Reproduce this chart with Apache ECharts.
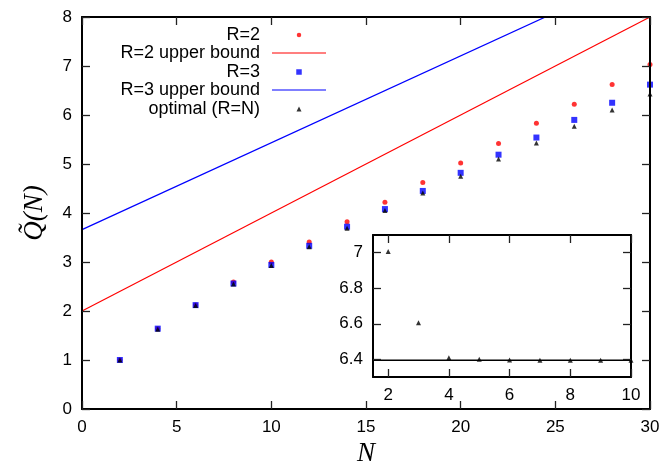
<!DOCTYPE html>
<html>
<head>
<meta charset="utf-8">
<script src="https://cdn.jsdelivr.net/npm/echarts@6/dist/echarts.min.js"></script>
<style>
  html, body { margin: 0; padding: 0; background: #fff; }
  #chart { width: 665px; height: 466px; }
</style>
</head>
<body>
<div id="chart"></div>
<script>
// main plot data (N even, 2..30)
var nValues = [2, 4, 6, 8, 10, 12, 14, 16, 18, 20, 22, 24, 26, 28, 30];
var r2Values = [1.00, 1.64, 2.12, 2.59, 3.00, 3.41, 3.82, 4.22, 4.62, 5.02, 5.42, 5.83, 6.22, 6.62, 7.03];
var r3Values = [1.00, 1.64, 2.12, 2.56, 2.94, 3.33, 3.72, 4.08, 4.45, 4.82, 5.19, 5.54, 5.90, 6.25, 6.62];
var optValues = [1.00, 1.63, 2.11, 2.55, 2.93, 3.31, 3.69, 4.05, 4.41, 4.75, 5.10, 5.43, 5.77, 6.10, 6.43];

// upper bounds (straight lines, clipped by the frame)
var boundN = [0, 30];
var r2Bound = [2.0, 8.0];
var r3Bound = [3.66, 8.98];

// inset data (optimal, N = 2..10)
var insetN = [2, 3, 4, 5, 6, 7, 8, 9, 10];
var insetValues = [7.007, 6.605, 6.408, 6.400, 6.396, 6.395, 6.395, 6.395, 6.395];
var insetLineN = [1.5, 10];
var insetLineY = [6.394, 6.394];

// ticks
var insetXTicks = [2, 4, 6, 8, 10];
var insetYTicks = [6.4, 6.6, 6.8, 7];

function zip(xs, ys) {
    return xs.map(function (x, i) { return [x, ys[i]]; });
}

var chartDom = document.getElementById('chart');
var myChart = echarts.init(chartDom);

var mathFont = { fontFamily: 'Liberation Serif', fontStyle: 'italic', fontSize: 27, color: '#000' };

// one framed axis, drawn on its own layer above the marks
function frameAxis(extra, showLabel, customTicks) {
    var ax = {
        type: 'value', z: 10, zlevel: 1,
        axisLine: { show: true, onZero: false, lineStyle: { color: '#000', width: 2 } },
        axisTick: { show: true, inside: true, length: 8, lineStyle: { color: '#222', width: 1.3 } },
        splitLine: { show: false },
        axisLabel: showLabel
            ? { show: true, margin: 10, fontFamily: 'Liberation Sans', fontSize: 17, color: '#000' }
            : { show: false }
    };
    if (customTicks) {
        ax.axisTick.customValues = customTicks;
        if (showLabel) ax.axisLabel.customValues = customTicks;
    }
    return Object.assign(ax, extra);
}

// legend: text right edge at x=260, sample centred at x=299
var legendTextRight = 260;
var legendSampleMid = 299;

function legendFor(name, top, w, h, icon) {
    var iconLeft = legendSampleMid - w / 2;
    return {
        data: [{ name: name, icon: icon }],
        right: 665 - (legendSampleMid + w / 2),
        top: top,
        orient: 'vertical',
        align: 'right',
        padding: 0,
        itemWidth: w,
        itemHeight: h,
        selectedMode: false,
        textStyle: {
            fontFamily: 'Liberation Sans',
            fontSize: 18,
            lineHeight: 18,
            color: '#000',
            padding: [0, iconLeft - legendTextRight - 5, 0, 0]
        }
    };
}

var option = {
    animation: false,
    backgroundColor: '#fff',
    grid: [
        { left: 82, right: 15, top: 17, bottom: 57, outerBoundsMode: 'none' },
        { left: 373, right: 34, top: 235, bottom: 89, outerBoundsMode: 'none' }
    ],
    legend: [
        legendFor('R=2', 26, 4.5, 4.5, 'circle'),
        legendFor('R=2 upper bound', 44, 54, 1.2, 'path://M0,0H54V1.2H0Z'),
        legendFor('R=3', 63, 5.5, 5.5, 'rect'),
        legendFor('R=3 upper bound', 81, 54, 1.2, 'path://M0,0H54V1.2H0Z'),
        legendFor('optimal (R=N)', 100, 5, 5, 'triangle')
    ],
    xAxis: [
        frameAxis({ gridIndex: 0, min: 0, max: 30, interval: 5,
            name: 'N', nameLocation: 'middle', nameGap: 28, nameTextStyle: mathFont }, true),
        frameAxis({ gridIndex: 0, position: 'top', min: 0, max: 30, interval: 5 }, false),
        frameAxis({ gridIndex: 1, min: 1.5, max: 10 }, true, insetXTicks),
        frameAxis({ gridIndex: 1, position: 'top', min: 1.5, max: 10 }, false, insetXTicks)
    ],
    yAxis: [
        frameAxis({ gridIndex: 0, min: 0, max: 8, interval: 1,
            name: 'Q\u0303(N)', nameLocation: 'middle', nameGap: 34, nameTextStyle: mathFont }, true),
        frameAxis({ gridIndex: 0, position: 'right', min: 0, max: 8, interval: 1 }, false),
        frameAxis({ gridIndex: 1, min: 6.3, max: 7.1 }, true, insetYTicks),
        frameAxis({ gridIndex: 1, position: 'right', min: 6.3, max: 7.1 }, false, insetYTicks)
    ],
    series: [
        {
            name: 'R=2', type: 'scatter', xAxisIndex: 0, yAxisIndex: 0,
            symbol: 'circle', symbolSize: 5,
            itemStyle: { color: '#ff0000' },
            data: zip(nValues, r2Values)
        },
        {
            name: 'R=2 upper bound', type: 'line', xAxisIndex: 0, yAxisIndex: 0,
            symbol: 'none', clip: true,
            itemStyle: { color: '#ff0000' },
            lineStyle: { color: '#ff0000', width: 1.2 },
            data: zip(boundN, r2Bound)
        },
        {
            name: 'R=3', type: 'scatter', xAxisIndex: 0, yAxisIndex: 0,
            symbol: 'rect', symbolSize: 6,
            itemStyle: { color: '#0000ff' },
            data: zip(nValues, r3Values)
        },
        {
            name: 'R=3 upper bound', type: 'line', xAxisIndex: 0, yAxisIndex: 0,
            symbol: 'none', clip: true,
            itemStyle: { color: '#0000ff' },
            lineStyle: { color: '#0000ff', width: 1.2 },
            data: zip(boundN, r3Bound)
        },
        {
            name: 'optimal (R=N)', type: 'scatter', xAxisIndex: 0, yAxisIndex: 0,
            symbol: 'triangle', symbolSize: 5,
            itemStyle: { color: '#000' },
            data: zip(nValues, optValues)
        },
        {
            name: 'inset asymptote', type: 'line', xAxisIndex: 2, yAxisIndex: 2,
            symbol: 'none',
            lineStyle: { color: '#000', width: 1.5 },
            data: zip(insetLineN, insetLineY)
        },
        {
            name: 'inset optimal', type: 'scatter', xAxisIndex: 2, yAxisIndex: 2,
            symbol: 'triangle', symbolSize: 5,
            itemStyle: { color: '#000' },
            data: zip(insetN, insetValues)
        }
    ]
};

myChart.setOption(option);
</script>
</body>
</html>
